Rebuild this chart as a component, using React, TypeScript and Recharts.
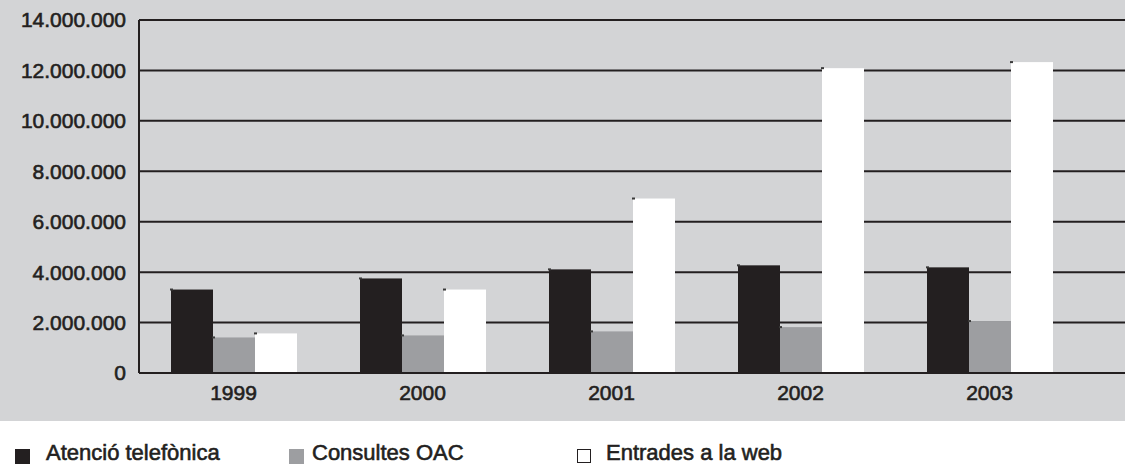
import { Bar, BarChart, CartesianGrid, XAxis, YAxis } from 'recharts'

const years = ['1999', '2000', '2001', '2002', '2003']
const atencioTelefonica = [3310000, 3750000, 4110000, 4270000, 4190000]
const consultesOAC = [1410000, 1490000, 1650000, 1820000, 2060000]
const entradesWeb = [1570000, 3310000, 6920000, 12090000, 12330000]
const yTicks = [0, 2000000, 4000000, 6000000, 8000000, 10000000, 12000000, 14000000]

const series = [
  { key: 'atencio', label: 'Atenció telefònica', color: '#231f20' },
  { key: 'oac', label: 'Consultes OAC', color: '#9d9ea1' },
  { key: 'web', label: 'Entrades a la web', color: '#ffffff' },
]

const data = years.map((year, i) => ({
  year,
  atencio: atencioTelefonica[i],
  oac: consultesOAC[i],
  web: entradesWeb[i],
}))

const INK = '#231f20'
const FONT = '"Liberation Sans", Arial, Helvetica, sans-serif'

const fmt = (v: number) => String(v).replace(/\B(?=(\d{3})+(?!\d))/g, '.')

// bar with the little dark notch at its top-left corner
function NotchBar(props: any) {
  const { x, y, width, height, fill } = props
  if (height == null || height <= 0) return null
  return (
    <g>
      <rect x={x} y={y} width={width} height={height} fill={fill} />
      <rect x={x - 1} y={y - 1} width={3} height={2} fill="#3a3a3a" />
    </g>
  )
}

const tickStyle = { fill: INK, fontSize: 21, fontFamily: FONT, stroke: INK, strokeWidth: 0.6 }

export default function App() {
  return (
    <div style={{ width: 1125, height: 466, background: '#fff', position: 'relative', overflow: 'hidden' }}>
      <style>{'body{margin:0}'}</style>
      <div style={{ position: 'absolute', left: 0, top: 0, width: 1125, height: 421, background: '#d3d4d6' }}>
        <BarChart
          width={1125}
          height={421}
          data={data}
          margin={{ top: 20, right: 0, bottom: 0, left: 0 }}
          barGap={0}
          barCategoryGap={31}
        >
          <CartesianGrid vertical={false} stroke={INK} strokeWidth={2} />
          <XAxis
            dataKey="year"
            height={48}
            padding={{ left: 0, right: 41 }}
            axisLine={{ stroke: INK, strokeWidth: 2 }}
            tickLine={false}
            tickSize={0}
            tickMargin={12}
            tick={tickStyle}
          />
          <YAxis
            width={139}
            domain={[0, 14000000]}
            ticks={yTicks}
            interval={0}
            tickFormatter={fmt}
            axisLine={{ stroke: INK, strokeWidth: 2 }}
            tickLine={false}
            tickSize={0}
            tickMargin={13}
            tick={tickStyle}
          />
          {series.map((s) => (
            <Bar
              key={s.key}
              dataKey={s.key}
              name={s.label}
              fill={s.color}
              barSize={42}
              shape={<NotchBar />}
              isAnimationActive={false}
            />
          ))}
        </BarChart>
      </div>
      {series.map((s, i) => {
        const left = [15, 289, 577][i]
        const textLeft = [46, 312, 606][i]
        const isWhite = s.color === '#ffffff'
        return (
          <div key={s.key}>
            <div
              style={{
                position: 'absolute',
                left,
                top: 449,
                width: isWhite ? 12 : 15,
                height: isWhite ? 12 : 15,
                background: s.color,
                border: isWhite ? `1px solid ${INK}` : 'none',
              }}
            />
            <div
              style={{
                position: 'absolute',
                left: textLeft,
                top: 440,
                fontFamily: FONT,
                fontSize: 22,
                color: INK,
                lineHeight: '26px',
                WebkitTextStroke: `0.6px ${INK}`,
                whiteSpace: 'nowrap',
              }}
            >
              {s.label}
            </div>
          </div>
        )
      })}
    </div>
  )
}
